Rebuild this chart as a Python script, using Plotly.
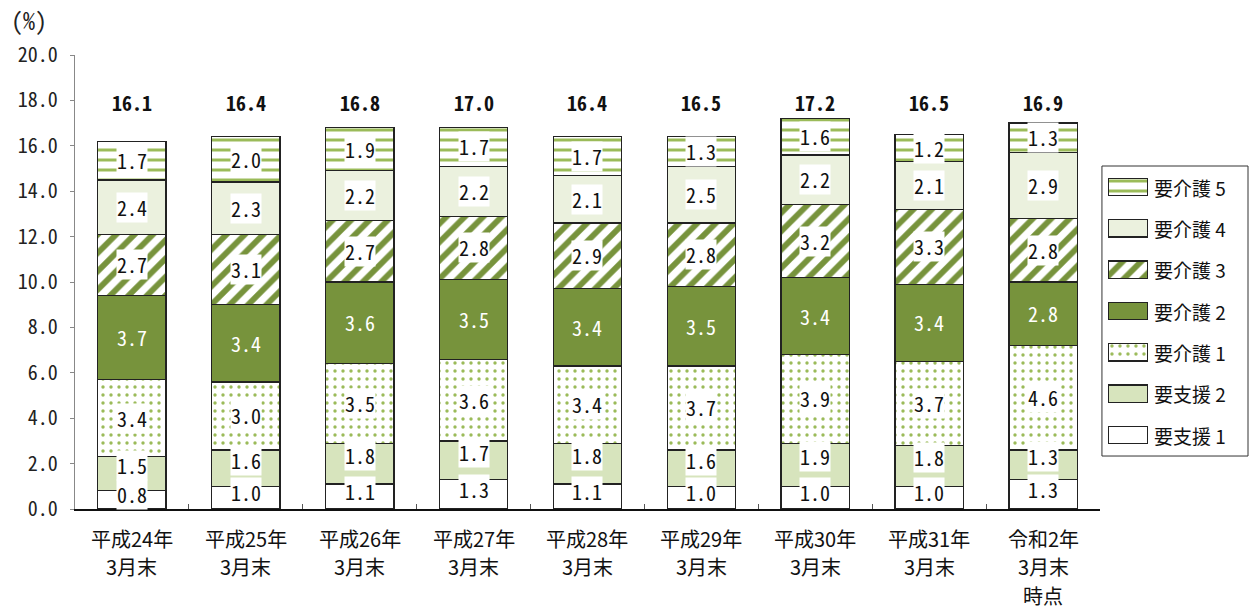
import plotly.graph_objects as go

categories = ["平成24年<br>3月末", "平成25年<br>3月末", "平成26年<br>3月末", "平成27年<br>3月末",
              "平成28年<br>3月末", "平成29年<br>3月末", "平成30年<br>3月末", "平成31年<br>3月末",
              "令和2年<br>3月末<br>時点"]

shien1 = [0.8, 1.0, 1.1, 1.3, 1.1, 1.0, 1.0, 1.0, 1.3]
shien2 = [1.5, 1.6, 1.8, 1.7, 1.8, 1.6, 1.9, 1.8, 1.3]
kaigo1 = [3.4, 3.0, 3.5, 3.6, 3.4, 3.7, 3.9, 3.7, 4.6]
kaigo2 = [3.7, 3.4, 3.6, 3.5, 3.4, 3.5, 3.4, 3.4, 2.8]
kaigo3 = [2.7, 3.1, 2.7, 2.8, 2.9, 2.8, 3.2, 3.3, 2.8]
kaigo4 = [2.4, 2.3, 2.2, 2.2, 2.1, 2.5, 2.2, 2.1, 2.9]
kaigo5 = [1.7, 2.0, 1.9, 1.7, 1.7, 1.3, 1.6, 1.2, 1.3]
totals = [16.1, 16.4, 16.8, 17.0, 16.4, 16.5, 17.2, 16.5, 16.9]

series_names = ["要支援 1", "要支援 2", "要介護 1", "要介護 2", "要介護 3", "要介護 4", "要介護 5"]
yticks = [0, 2, 4, 6, 8, 10, 12, 14, 16, 18, 20]

GREEN = "#77933C"
LIGHT = "#9BBB59"
FONT = "Noto Sans CJK JP, Noto Sans, sans-serif"
NUMFONT = "Noto Sans Mono CJK JP, DejaVu Sans Mono, monospace"
EDGE = dict(color="#222222", width=1.3)

styles = [
    dict(color="white"),
    dict(color="#D7E4BD"),
    dict(color="white", pattern=dict(shape=".", fgcolor=LIGHT, bgcolor="white", fgopacity=1, size=8, solidity=0.14)),
    dict(color=GREEN),
    dict(color="white", pattern=dict(shape="/", fgcolor=GREEN, bgcolor="white", fgopacity=1, size=13, solidity=0.45)),
    dict(color="#EBF1DE"),
    dict(color="white", pattern=dict(shape="-", fgcolor=LIGHT, bgcolor="white", fgopacity=1, size=10, solidity=0.3)),
]
values = [shien1, shien2, kaigo1, kaigo2, kaigo3, kaigo4, kaigo5]
# small upward nudge of the labels in the two thin bottom segments
label_shift = [5, 8, 0, 0, 0, 0, 0]

fig = go.Figure()

# main stacked bars
for name, vals, st in zip(series_names, values, styles):
    fig.add_trace(go.Bar(x=categories, y=vals, name=name, marker=dict(st, line=EDGE),
                         width=0.6, showlegend=False, hoverinfo="x+y+name"))

annotations = []
base = [0.0] * len(categories)
for idx, vals in enumerate(values):
    for i, v in enumerate(vals):
        mid = base[i] + v / 2
        dark = idx == 3
        annotations.append(dict(
            x=categories[i], y=mid, xref="x", yref="y", text=f"{v:.1f}", showarrow=False,
            yshift=label_shift[idx],
            font=dict(family=NUMFONT, size=20, color="white" if dark else "#111111"),
            bgcolor=None if dark else "white", borderpad=0,
        ))
        base[i] += v

for i, t in enumerate(totals):
    annotations.append(dict(
        x=categories[i], y=17.9, xref="x", yref="y", text=f"<b>{t:.1f}</b>", showarrow=False,
        font=dict(family=NUMFONT, size=20, color="#111111"),
    ))

# category labels, one annotation per line for wider line spacing
for cat in categories:
    for j, line in enumerate(cat.split("<br>")):
        annotations.append(dict(
            x=cat, y=-0.064 - 0.0628 * j, xref="x", yref="paper", yanchor="middle",
            text=line, showarrow=False, font=dict(family=FONT, size=20, color="#111111"),
        ))

annotations.append(dict(
    xref="paper", yref="paper", x=-0.056, y=1.079, xanchor="left", yanchor="middle",
    text="(%)", showarrow=False, font=dict(family=NUMFONT, size=24, color="#222222"),
))

# legend drawn as swatches on a small auxiliary axis pair
legend_pos = list(range(len(series_names)))
for k, (name, st) in enumerate(zip(series_names, styles)):
    fig.add_trace(go.Bar(x=[1], y=[legend_pos[k]], base=0, orientation="h", width=0.42,
                         marker=dict(st, line=EDGE), xaxis="x2", yaxis="y2",
                         showlegend=False, hoverinfo="skip"))
    annotations.append(dict(
        x=0.917, y=legend_pos[k], xref="paper", yref="y2", xanchor="left", yanchor="middle",
        text=name, showarrow=False, font=dict(family=FONT, size=19, color="#111111"),
    ))

fig.add_shape(type="rect", xref="paper", yref="paper", x0=0.874, x1=0.9983, y0=0.1167, y1=0.7555,
              line=dict(color="#333333", width=1))

fig.update_layout(
    barmode="stack",
    width=1250, height=610,
    margin=dict(l=75, r=0, t=55, b=101),
    plot_bgcolor="white", paper_bgcolor="white",
    font=dict(family=FONT, size=18, color="#222222"),
    annotations=annotations,
    bargap=0.4,
    xaxis=dict(
        domain=[0, 0.8723],
        showgrid=False, showline=True, linecolor="#111111", linewidth=1.5,
        ticks="inside", tickson="boundaries", ticklen=5, tickcolor="#555555",
        showticklabels=False,
    ),
    yaxis=dict(
        range=[0, 20], tickvals=yticks, ticktext=[f"{v:.1f}" for v in yticks],
        showgrid=False, showline=True, linecolor="#888888", linewidth=1.3,
        ticks="outside", ticklen=4, tickcolor="#888888",
        tickfont=dict(family=NUMFONT, size=20), zeroline=False, ticklabelstandoff=8,
    ),
    xaxis2=dict(domain=[0.8791, 0.9132], range=[0, 1], visible=False, fixedrange=True),
    yaxis2=dict(domain=[0.1167, 0.7555], range=[-0.508, 6.508], visible=False, fixedrange=True,
                anchor="x2"),
)

fig.write_html("out.html")
